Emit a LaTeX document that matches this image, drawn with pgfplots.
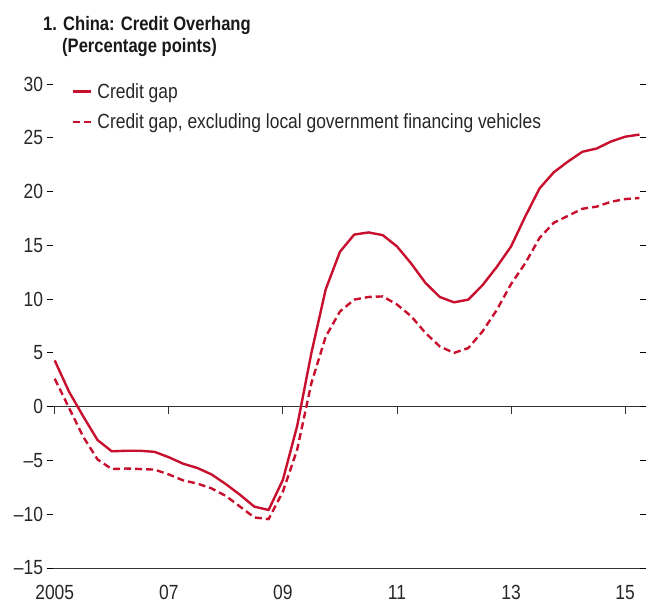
\documentclass[border=0pt]{standalone}
\usepackage{fontspec}
\setmainfont{Liberation Sans}[FakeStretch=0.85]
\usepackage{pgfplots}
\pgfplotsset{compat=1.18}
\usepackage{pgfplotstable}
\definecolor{imfred}{RGB}{200,16,46}
\pgfplotstableread{
x y
2005.00 4.3
2005.25 1.4
2005.50 -0.9
2005.75 -3.1
2006.00 -4.15
2006.25 -4.1
2006.50 -4.1
2006.75 -4.2
2007.00 -4.7
2007.25 -5.3
2007.50 -5.7
2007.75 -6.3
2008.00 -7.2
2008.25 -8.2
2008.50 -9.3
2008.75 -9.6
2009.00 -6.8
2009.25 -1.8
2009.50 5.0
2009.75 10.9
2010.00 14.4
2010.25 16.0
2010.50 16.2
2010.75 15.95
2011.00 14.9
2011.25 13.3
2011.50 11.5
2011.75 10.2
2012.00 9.7
2012.25 9.95
2012.50 11.3
2012.75 13.0
2013.00 14.9
2013.25 17.7
2013.50 20.3
2013.75 21.8
2014.00 22.8
2014.25 23.7
2014.50 24.0
2014.75 24.65
2015.00 25.1
2015.25 25.3
}\gap
\pgfplotstableread{
x y
2005.00 2.6
2005.25 -0.1
2005.50 -2.8
2005.75 -4.9
2006.00 -5.8
2006.25 -5.75
2006.50 -5.8
2006.75 -5.85
2007.00 -6.3
2007.25 -6.85
2007.50 -7.15
2007.75 -7.6
2008.00 -8.3
2008.25 -9.3
2008.50 -10.3
2008.75 -10.45
2009.00 -7.9
2009.25 -4.0
2009.50 2.2
2009.75 6.5
2010.00 8.85
2010.25 9.95
2010.50 10.2
2010.75 10.25
2011.00 9.5
2011.25 8.4
2011.50 6.85
2011.75 5.6
2012.00 5.0
2012.25 5.45
2012.50 7.0
2012.75 9.0
2013.00 11.4
2013.25 13.35
2013.50 15.7
2013.75 17.1
2014.00 17.75
2014.25 18.4
2014.50 18.6
2014.75 19.05
2015.00 19.3
2015.25 19.4
}\gapx
\begin{document}
\begin{tikzpicture}
\begin{axis}[
  at={(53pt,35pt)}, anchor=south west,
  scale only axis, width=587pt, height=484pt,
  xmin=2004.97, xmax=2015.26, ymin=-15, ymax=30,
  axis line style={draw=none},
  ytick={-15,-10,...,30},
  yticklabels={\textendash15,\textendash10,\textendash5,0,5,10,15,20,25,30},
  ytick pos=both, yticklabel pos=left,
  tick align=outside, major tick length=6.5pt,
  tick style={black, line width=0.9pt},
  xtick={2005,2007,2009,2011,2013,2015},
  xticklabels={2005,07,09,11,13,15},
  x tick style={draw=none},
  ticklabel style={font=\fontsize{20.5}{24}\selectfont, text=black!85},
  xticklabel style={yshift=-7pt},
  legend style={draw=none, fill=none, at={(0.027,1.01)}, anchor=north west,
    font=\fontsize{20.5}{24}\selectfont, row sep=10pt, text=black!85,
    legend cell align=left},
  legend image code/.code={\draw[#1] (0pt,0pt) -- (18pt,0pt); \path (21pt,0pt);},
  clip=false,
]
\draw[black!80, line width=0.9pt] (axis cs:2004.97,-15) -- (axis cs:2015.26,-15);
\draw[black!80, line width=0.9pt] (axis cs:2004.97,0) -- (axis cs:2015.26,0);
\draw[black!80, line width=0.9pt] (axis cs:2005,0) -- ++(0pt,-7pt);
\draw[black!80, line width=0.9pt] (axis cs:2007,0) -- ++(0pt,-7pt);
\draw[black!80, line width=0.9pt] (axis cs:2009,0) -- ++(0pt,-7pt);
\draw[black!80, line width=0.9pt] (axis cs:2011,0) -- ++(0pt,-7pt);
\draw[black!80, line width=0.9pt] (axis cs:2013,0) -- ++(0pt,-7pt);
\draw[black!80, line width=0.9pt] (axis cs:2015,0) -- ++(0pt,-7pt);
\addplot[imfred, line width=2.4pt, line join=round] table {\gap};
\addlegendentry{Credit gap}
\addplot[imfred, line width=2.4pt, dash pattern=on 7pt off 4pt] table {\gapx};
\addlegendentry{Credit gap, excluding local government financing vehicles}
\end{axis}
\node[anchor=base west, inner sep=0pt, font=\bfseries\fontsize{19.5}{22}\selectfont, text=black!90] at (43pt,572pt) {1. China: Credit Overhang};
\node[anchor=base west, inner sep=0pt, font=\bfseries\fontsize{19.5}{22}\selectfont, text=black!90] at (62pt,550pt) {(Percentage points)};
\pgfresetboundingbox
\path[use as bounding box] (0pt,0pt) rectangle (647pt,603pt);
\end{tikzpicture}
\end{document}
